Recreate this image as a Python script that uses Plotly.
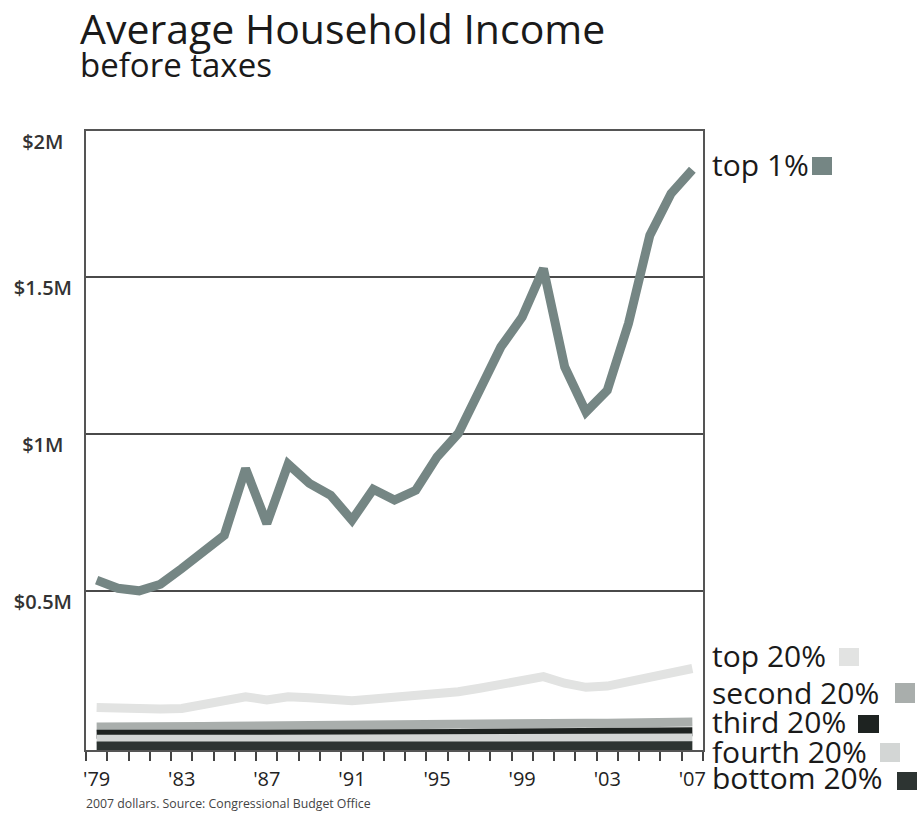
import plotly.graph_objects as go

# ---------------- data (values in $ millions, 2007 dollars) ----------------
years = list(range(1979, 2008))

top1 = [0.534, 0.508, 0.500, 0.521, 0.571, 0.624, 0.677, 0.889, 0.714, 0.903,
        0.842, 0.804, 0.725, 0.823, 0.789, 0.820, 0.926, 1.001, 1.138, 1.276,
        1.371, 1.525, 1.212, 1.069, 1.138, 1.351, 1.631, 1.764, 1.840]

top20 = [0.129, 0.126, 0.123, 0.124, 0.126, 0.137, 0.145, 0.163, 0.153, 0.163,
         0.160, 0.155, 0.150, 0.156, 0.161, 0.166, 0.172, 0.179, 0.190, 0.200,
         0.211, 0.227, 0.206, 0.193, 0.197, 0.211, 0.227, 0.238, 0.253]

second20 = [0.067, 0.066, 0.065, 0.065, 0.066, 0.068, 0.069, 0.070, 0.070, 0.071,
            0.071, 0.070, 0.069, 0.070, 0.070, 0.071, 0.072, 0.073, 0.075, 0.077,
            0.079, 0.081, 0.080, 0.079, 0.079, 0.080, 0.081, 0.082, 0.083]

third20 = [0.044, 0.043, 0.042, 0.041, 0.041, 0.042, 0.043, 0.044, 0.044, 0.045,
           0.045, 0.045, 0.044, 0.044, 0.044, 0.045, 0.045, 0.046, 0.047, 0.048,
           0.049, 0.050, 0.050, 0.049, 0.049, 0.050, 0.050, 0.051, 0.052]

fourth20 = [0.028, 0.027, 0.026, 0.026, 0.026, 0.027, 0.027, 0.028, 0.028, 0.028,
            0.029, 0.028, 0.028, 0.028, 0.028, 0.028, 0.029, 0.029, 0.030, 0.030,
            0.031, 0.031, 0.031, 0.031, 0.031, 0.031, 0.031, 0.032, 0.032]

bottom20 = [0.006, 0.006, 0.006, 0.006, 0.006, 0.006, 0.006, 0.006, 0.006, 0.006,
            0.006, 0.006, 0.006, 0.006, 0.006, 0.006, 0.006, 0.006, 0.007, 0.007,
            0.007, 0.007, 0.007, 0.007, 0.007, 0.007, 0.007, 0.007, 0.007]

series_names = ["top 1%", "top 20%", "second 20%", "third 20%", "fourth 20%", "bottom 20%"]

x_tick_years = [1979, 1983, 1987, 1991, 1995, 1999, 2003, 2007]
x_tick_text = ["'79", "'83", "'87", "'91", "'95", "'99", "'03", "'07"]

Y_MIN, Y_MAX = -0.0064, 1.963
y_tick_vals = [0.5, 1.0, 1.5, Y_MAX]
y_tick_text = ["$0.5M", "$1M\u00a0\u2009", "$1.5M", "$2M\u00a0\u2009"]

# ---------------- styling ----------------
COLORS = {
    "top 1%": "#758684",
    "top 20%": "#e2e3e2",
    "second 20%": "#a9aeac",
    "third 20%": "#1e2321",
    "fourth 20%": "#d3d6d5",
    "bottom 20%": "#2d3432",
}
FONT = "Open Sans, Noto Sans, DejaVu Sans, sans-serif"

W, H = 923, 816
ML, MR, MT, MB = 86, 220, 131, 66
PW, PH = W - ML - MR, H - MT - MB


def px(x):
    return (x - ML) / PW


def py(y):
    return (H - MB - y) / PH


values = {
    "top 1%": top1,
    "top 20%": top20,
    "second 20%": second20,
    "third 20%": third20,
    "fourth 20%": fourth20,
    "bottom 20%": bottom20,
}

fig = go.Figure()
draw_order = ["second 20%", "third 20%", "fourth 20%", "bottom 20%", "top 20%", "top 1%"]
for name in draw_order:
    fig.add_trace(go.Scatter(
        x=years, y=values[name], mode="lines", name=name,
        line=dict(color=COLORS[name], width=9),
        showlegend=False, hoverinfo="x+y+name",
    ))

fig.update_layout(
    width=W, height=H,
    margin=dict(l=ML, r=MR, t=MT, b=MB),
    paper_bgcolor="white", plot_bgcolor="white",
    font=dict(family=FONT, color="#222"),
    showlegend=False,
)

fig.update_xaxes(
    range=[1978.5, 2007.5],
    tickvals=x_tick_years, ticktext=x_tick_text,
    ticks="", showgrid=False,
    tickfont=dict(size=20, color="#222", family=FONT),
    ticklabelstandoff=10,
    showline=True, linecolor="#555", linewidth=2, mirror=True,
    minor=dict(tick0=1978.5, dtick=1, ticks="outside", ticklen=9,
               tickcolor="#444", tickwidth=1.5, showgrid=False),
    zeroline=False,
)

fig.update_yaxes(
    range=[Y_MIN, Y_MAX],
    tickvals=y_tick_vals, ticktext=y_tick_text,
    ticks="", showgrid=True, gridcolor="#4a4a4a", gridwidth=1.6,
    tickfont=dict(size=20, color="#333", family=FONT, weight=600),
    ticklabelshift=11, ticklabelstandoff=8,
    showline=True, linecolor="#555", linewidth=2, mirror=True,
    zeroline=False,
)

annotations = [
    dict(text="Average Household Income", x=px(78), y=py(-2), xanchor="left", yanchor="top",
         font=dict(size=41, color="#1a1a1a", family=FONT)),
    dict(text="before taxes", x=px(78), y=py(40), xanchor="left", yanchor="top",
         font=dict(size=33, color="#1a1a1a", family=FONT)),
    dict(text="2007 dollars. Source: Congressional Budget Office", x=px(84), y=py(803),
         xanchor="left", yanchor="middle", font=dict(size=12.3, color="#444", family=FONT)),
]

# legend labels and swatches
label_centers = {
    "top 1%": 164, "top 20%": 655, "second 20%": 692,
    "third 20%": 721, "fourth 20%": 751, "bottom 20%": 777,
}
swatches = {
    "top 1%": (812, 157, 832, 175),
    "top 20%": (839, 648, 859, 666),
    "second 20%": (895, 683, 915, 703),
    "third 20%": (858, 715, 879, 733),
    "fourth 20%": (880, 743, 900, 762),
    "bottom 20%": (897, 772, 917, 790),
}
shapes = []
for name in series_names:
    annotations.append(dict(
        text=name, x=px(710), y=py(label_centers[name]), xanchor="left", yanchor="middle",
        font=dict(size=30, color="#1a1a1a", family=FONT)))
    x0, y0, x1, y1 = swatches[name]
    shapes.append(dict(type="rect", xref="paper", yref="paper",
                       x0=px(x0), x1=px(x1), y0=py(y1), y1=py(y0),
                       fillcolor=COLORS[name], line=dict(width=0)))

for a in annotations:
    a.update(xref="paper", yref="paper", showarrow=False)

fig.update_layout(annotations=annotations, shapes=shapes)

fig.write_html("out.html", config={"displayModeBar": False},
               post_script="document.body.style.margin='0px';")
